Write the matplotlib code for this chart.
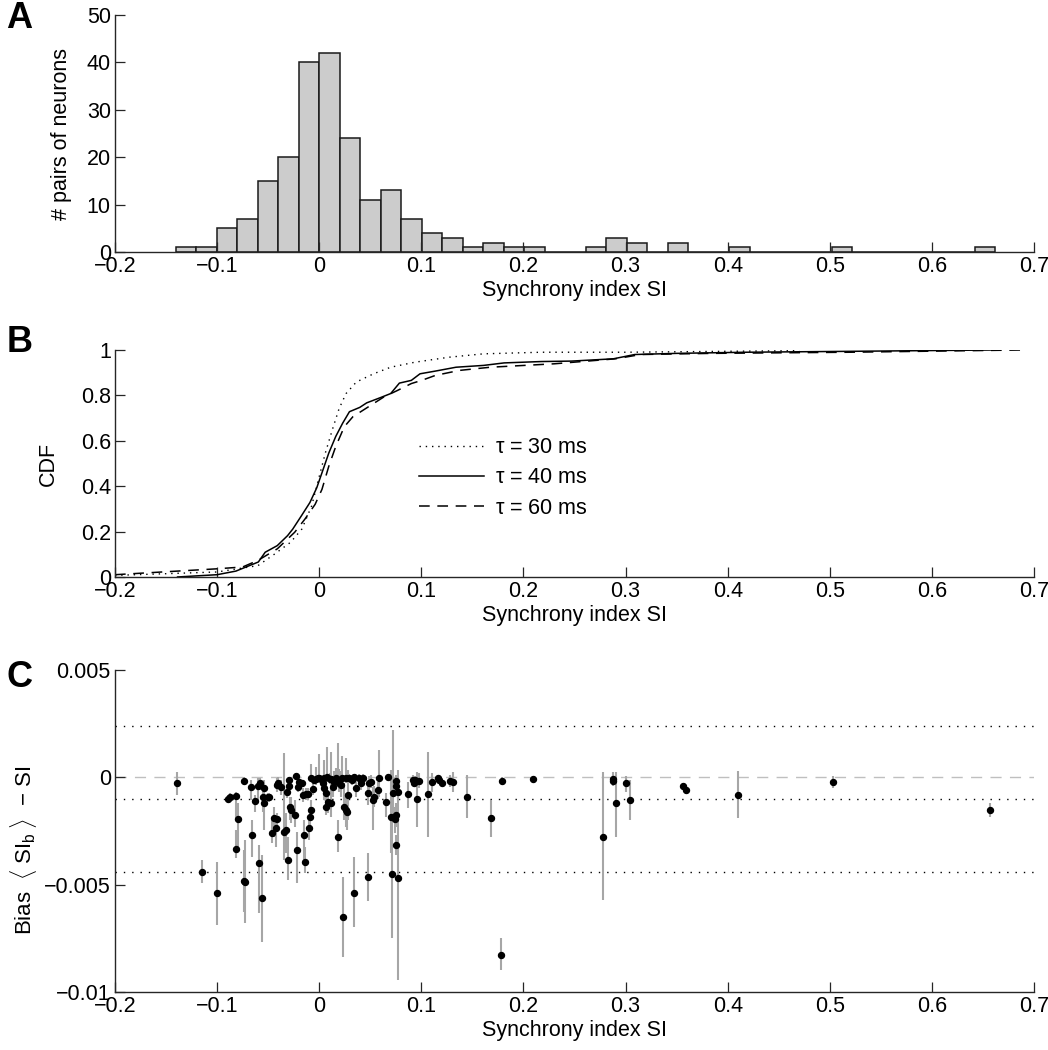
import numpy as np
import matplotlib.pyplot as plt

# Synchrony index of neuron pairs: histogram, CDFs for several tau, bootstrap bias

plt.rcParams['font.family'] = ['Liberation Sans', 'DejaVu Sans']
plt.rcParams['mathtext.fontset'] = 'custom'
plt.rcParams['mathtext.rm'] = 'Liberation Sans'
plt.rcParams['mathtext.it'] = 'Liberation Sans'

# 1. Histogram (40 bins from min to max SI)
hist_min = -0.1405
hist_max = 0.6622
hist_counts = [1, 1, 5, 7, 15, 20, 40, 42, 24, 11,
               13, 7, 4, 3, 1, 2, 1, 1, 0, 0,
               1, 3, 2, 0, 2, 0, 0, 1, 0, 0,
               0, 0, 1, 0, 0, 0, 0, 0, 0, 1]

# 2. CDF curves (SI, cumulative fraction)
cdf30_x = [-0.2, -0.1, -0.06, -0.044, -0.028, -0.017, -0.0074, -0.0007, 0.006, 0.0128,
           0.0195, 0.0263, 0.0364, 0.0532, 0.07, 0.0936, 0.127, 0.161, 0.2175, 0.3, 0.47]
cdf30_y = [0.007, 0.022, 0.05, 0.10, 0.153, 0.211, 0.313, 0.43, 0.546, 0.648,
           0.742, 0.808, 0.859, 0.895, 0.924, 0.946, 0.968, 0.983, 0.99, 0.99, 0.997]

cdf40_x = [-0.1387, -0.1, -0.0815, -0.0596, -0.0529, -0.0411, -0.031, -0.0259, -0.0175, -0.0091,
           -0.0024, 0.0027, 0.0094, 0.0162, 0.0229, 0.0296, 0.0397, 0.0465, 0.0599, 0.07,
           0.0785, 0.0902, 0.0987, 0.1138, 0.134, 0.161, 0.1811, 0.2175, 0.247, 0.288,
           0.309, 0.35, 0.418, 0.52, 0.662]
cdf40_y = [0.0, 0.01, 0.026, 0.066, 0.109, 0.138, 0.182, 0.211, 0.269, 0.328,
           0.393, 0.459, 0.546, 0.619, 0.677, 0.728, 0.747, 0.767, 0.79, 0.808,
           0.854, 0.866, 0.895, 0.907, 0.924, 0.932, 0.943, 0.949, 0.951, 0.961,
           0.98, 0.985, 0.99, 0.994, 1.0]

cdf60_x = [-0.2, -0.1, -0.075, -0.06, -0.041, -0.024, -0.014, -0.004, 0.0027, 0.0094,
           0.0162, 0.0246, 0.033, 0.0431, 0.0532, 0.0633, 0.0768, 0.0902, 0.1003, 0.1138,
           0.1374, 0.1677, 0.2175, 0.23, 0.29, 0.315, 0.384, 0.52, 0.69]
cdf60_y = [0.01, 0.036, 0.044, 0.073, 0.124, 0.197, 0.255, 0.32, 0.386, 0.488,
           0.575, 0.662, 0.706, 0.735, 0.764, 0.793, 0.822, 0.852, 0.866, 0.888,
           0.91, 0.924, 0.936, 0.939, 0.961, 0.98, 0.985, 0.99, 1.0]

cdf_labels = [r'$\tau$ = 30 ms', r'$\tau$ = 40 ms', r'$\tau$ = 60 ms']

# 3. Bootstrap bias per pair (values in units of 1e-3): SI, bias, lower, upper
bias_si = [-0.1388, -0.1143, -0.1002, -0.0898, -0.0872, -0.0816, -0.0800, -0.0810, -0.0741, -0.0728,
           -0.0735, -0.0663, -0.0669, -0.0627, -0.0597, -0.0578, -0.0555, -0.0539, -0.0545, -0.0591,
           -0.0562, -0.0506, -0.0490, -0.0467, -0.0441, -0.0424, -0.0415, -0.0415, -0.0402, -0.0375,
           -0.0349, -0.0326, -0.0310, -0.0317, -0.0300, -0.0294, -0.0284, -0.0278, -0.0235, -0.0229,
           -0.0219, -0.0212, -0.0196, -0.0170, -0.0157, -0.0147, -0.0140, -0.0131, -0.0114, -0.0098,
           -0.0091, -0.0082, -0.0065, -0.0049, -0.0016, 0.0016, 0.0033, 0.0049, 0.0065, 0.0065,
           0.0082, 0.0108, 0.0114, 0.0131, 0.0147, 0.0163, 0.0186, 0.0196, 0.0212, 0.0235,
           0.0245, 0.0261, 0.0271, 0.0284, 0.0294, 0.0317, 0.0343, 0.0359, 0.0343, 0.0392,
           0.0408, 0.0424, 0.0473, 0.0473, 0.0490, 0.0506, 0.0522, 0.0539, 0.0571, 0.0588,
           0.0653, 0.0669, 0.0702, 0.0708, 0.0727, 0.0750, 0.0753, 0.0750, 0.0746, 0.0750,
           0.0769, 0.0776, 0.0874, 0.0916, 0.0932, 0.0939, 0.0962, 0.0981, 0.1069, 0.1109,
           0.1164, 0.1177, 0.1203, 0.1282, 0.1314, 0.1451, 0.1683, 0.1778, 0.1794, 0.2098,
           0.2783, 0.2875, 0.2881, 0.2907, 0.3002, 0.3045, 0.3560, 0.3590, 0.4100, 0.5030,
           0.6570, 0.0000, 0.0050, 0.0080, 0.0120, 0.0180, 0.0220, 0.0260, -0.0080, -0.0030]
bias_val = [-0.28, -4.39, -5.37, -1.01, -0.93, -0.87, -1.94, -3.35, -4.81, -4.86,
            -0.16, -2.69, -0.43, -1.09, -0.40, -0.28, -0.90, -0.51, -1.21, -3.98,
            -5.64, -0.93, -0.93, -2.61, -1.91, -2.38, -1.96, -0.36, -0.25, -0.43,
            -2.53, -2.45, -3.85, -0.67, -0.40, -0.12, -1.37, -1.52, -1.74, 0.06,
            -3.39, -0.43, -0.22, -0.28, -0.82, -2.69, -3.93, -0.78, -0.78, -2.38,
            -1.83, -1.52, -0.56, -0.12, -0.05, -0.09, -0.28, -0.51, -0.71, -1.37,
            -1.13, -0.09, -1.21, -0.43, -0.22, -0.05, -2.76, -0.25, -0.36, -6.49,
            -1.40, -1.52, -1.60, -0.82, -0.05, -0.12, 0.00, -0.51, -5.37, -0.05,
            -0.28, -0.05, -4.63, -0.75, -0.28, -0.20, -1.06, -0.93, -0.59, -0.05,
            -1.13, 0.00, -1.83, -4.50, -0.71, -0.16, -0.40, -1.75, -1.96, -3.15,
            -0.67, -4.67, -0.78, -0.12, -0.25, -0.12, -1.02, -0.17, -0.78, -0.23,
            -0.05, -0.12, -0.28, -0.17, -0.20, -0.90, -1.89, -8.28, -0.17, -0.08,
            -2.76, -0.08, -0.17, -1.21, -0.28, -1.06, -0.40, -0.60, -0.80, -0.20,
            -1.50, -0.02, -0.05, 0.00, -0.10, -0.12, -0.05, -0.03, -0.03, -0.10]
bias_lo = [-0.82, -4.94, -6.88, -1.13, -1.13, -1.99, -3.23, -3.77, -6.26, -6.80,
           -0.36, -3.70, -1.06, -1.60, -1.06, -0.59, -1.60, -1.06, -2.45, -6.34,
           -7.66, -1.13, -1.13, -3.07, -2.76, -3.23, -2.30, -0.67, -0.51, -0.82,
           -3.85, -3.54, -4.78, -0.98, -0.67, -0.36, -1.99, -2.14, -2.30, -0.12,
           -4.94, -0.67, -0.43, -0.43, -1.13, -3.85, -4.47, -1.06, -1.06, -2.92,
           -2.45, -1.99, -0.82, -0.28, -0.20, -0.25, -0.55, -1.06, -1.10, -1.75,
           -1.68, -0.30, -1.83, -0.90, -0.60, -0.40, -3.47, -0.70, -0.90, -8.35,
           -1.99, -2.30, -2.45, -1.99, -0.25, -0.35, -0.15, -0.90, -6.96, -0.25,
           -0.60, -0.25, -5.75, -1.30, -0.60, -0.50, -2.45, -1.40, -1.00, -0.90,
           -1.83, -0.15, -3.54, -7.50, -1.99, -0.40, -0.70, -2.30, -2.60, -3.60,
           -1.10, -9.44, -1.44, -0.35, -0.45, -0.30, -2.30, -0.51, -2.76, -0.67,
           -0.20, -0.25, -0.40, -0.43, -0.67, -1.91, -2.76, -8.98, -0.36, -0.15,
           -5.72, -0.30, -0.40, -2.76, -0.67, -1.99, -0.55, -0.75, -1.90, -0.50,
           -1.85, -0.15, -0.30, -0.20, -0.40, -0.45, -0.30, -0.25, -0.20, -0.35]
bias_hi = [0.26, -3.85, -3.93, -0.82, -0.75, -0.67, -1.21, -2.45, -3.39, -2.92,
           0.03, -1.99, -0.12, -0.82, -0.05, -0.05, -0.59, -0.12, -0.90, -3.15,
           -3.62, -0.75, -0.75, -1.99, -1.37, -1.99, -1.68, -0.05, 0.03, -0.12,
           1.12, -1.68, -2.76, -0.36, -0.12, 0.03, -0.90, -0.90, -1.06, 0.19,
           -2.53, -0.05, -0.05, -0.12, -0.51, -1.99, -3.23, -0.51, -0.51, -1.99,
           -1.37, -1.06, -0.28, 0.03, 0.10, 0.08, 0.05, -0.12, -0.30, -0.98,
           -0.67, 0.20, -0.43, 0.05, 0.30, 0.45, -1.99, 0.40, 0.30, -4.63,
           -0.28, -0.75, -0.90, 0.34, 0.15, 0.10, 0.15, -0.10, -3.70, 0.15,
           0.05, 0.15, -3.54, -0.20, 0.05, 0.10, -0.43, -0.40, -0.20, 1.27,
           -0.75, 0.15, 0.34, -1.68, 2.19, 0.10, -0.10, -1.20, -1.40, -2.70,
           0.00, 0.34, -0.20, 0.10, -0.05, 0.08, 0.26, 0.19, 1.20, 0.19,
           0.10, 0.02, -0.15, 0.11, 0.26, 0.11, -1.06, -7.50, 0.03, 0.00,
           0.26, 0.26, 0.10, 0.26, 0.05, -0.12, -0.25, -0.45, 0.30, 0.05,
           -1.20, 1.10, 0.80, 1.40, 1.20, 1.60, 1.00, 0.90, 0.60, 0.50]

# reference lines of panel C (1e-3 units): mean and mean +/- 1.96 sd
bias_zero = 0.0
bias_band = [2.4, -1.0, -4.4]

xticks = [-0.2, -0.1, 0, 0.1, 0.2, 0.3, 0.4, 0.5, 0.6, 0.7]
xtick_labels = ['\u22120.2', '\u22120.1', '0', '0.1', '0.2', '0.3', '0.4', '0.5', '0.6', '0.7']

FS = 15.5


def style_axis(ax):
    ax.spines['top'].set_visible(False)
    ax.spines['right'].set_visible(False)
    for s in ['left', 'bottom']:
        ax.spines[s].set_linewidth(1.0)
        ax.spines[s].set_color('0.15')
    ax.tick_params(direction='in', length=7, width=0.9, labelsize=FS, color='0.15', pad=3)
    ax.set_xlim(-0.2, 0.7)
    ax.set_xticks(xticks)
    ax.set_xticklabels(xtick_labels)
    ax.set_xlabel('Synchrony index SI', fontsize=FS, labelpad=2)


fig = plt.figure(figsize=(10.48, 10.5), dpi=100)
axA = fig.add_axes([0.1097, 0.760, 0.877, 0.2257])
axB = fig.add_axes([0.1097, 0.4505, 0.877, 0.2162])
axC = fig.add_axes([0.1097, 0.0552, 0.877, 0.3067])

# Panel A
edges = np.linspace(hist_min, hist_max, len(hist_counts) + 1)
axA.bar(edges[:-1], hist_counts, width=np.diff(edges), align='edge',
        color='0.8', edgecolor='0.1', linewidth=1.1)
style_axis(axA)
axA.set_ylim(0, 50)
axA.set_yticks([0, 10, 20, 30, 40, 50])
axA.set_ylabel('# pairs of neurons', fontsize=FS)
axA.yaxis.set_label_coords(-0.047, 0.5)

# Panel B
axB.plot(cdf30_x, cdf30_y, color='k', lw=1.0, ls=(0, (1, 3.5)), label=cdf_labels[0])
axB.plot(cdf40_x, cdf40_y, color='k', lw=1.1, ls='-', label=cdf_labels[1])
axB.plot(cdf60_x, cdf60_y, color='k', lw=1.1, ls=(0, (7, 5)), label=cdf_labels[2])
style_axis(axB)
axB.set_ylim(0, 1)
axB.set_yticks([0, 0.2, 0.4, 0.6, 0.8, 1])
axB.set_yticklabels(['0', '0.2', '0.4', '0.6', '0.8', '1'])
axB.set_ylabel('CDF', fontsize=FS)
axB.yaxis.set_label_coords(-0.061, 0.5)
axB.legend(frameon=False, loc='upper left', bbox_to_anchor=(0.31, 0.70),
           fontsize=FS, handlelength=3.0, handletextpad=0.5, labelspacing=0.42)

# Panel C
scale = 1e-3
bx = np.array(bias_si)
by = np.array(bias_val) * scale
blo = np.array(bias_lo) * scale
bhi = np.array(bias_hi) * scale
axC.axhline(bias_zero, color='0.75', lw=1.0, ls=(0, (8, 6)), zorder=1)
for yv in bias_band:
    axC.axhline(yv * scale, color='k', lw=1.0, ls=(0, (1, 5)), zorder=1)
axC.vlines(bx, blo, bhi, color='0.65', lw=1.5, zorder=2)
axC.plot(bx, by, 'o', color='k', ms=4.3, zorder=3)
style_axis(axC)
axC.set_ylim(-0.01, 0.005)
axC.set_yticks([-0.01, -0.005, 0, 0.005])
axC.set_yticklabels(['\u22120.01', '\u22120.005', '0', '0.005'])
axC.set_ylabel(r'Bias  $\langle\;$SI$_\mathrm{b}\;\rangle$  $-$ SI', fontsize=FS + 0.5)
axC.yaxis.set_label_coords(-0.083, 0.44)

# Panel letters
for letter, ypos in [('A', 0.999), ('B', 0.69), ('C', 0.371)]:
    fig.text(0.006, ypos, letter, fontsize=26, fontweight='bold', va='top', ha='left')

fig.savefig('out.png', dpi=100)
